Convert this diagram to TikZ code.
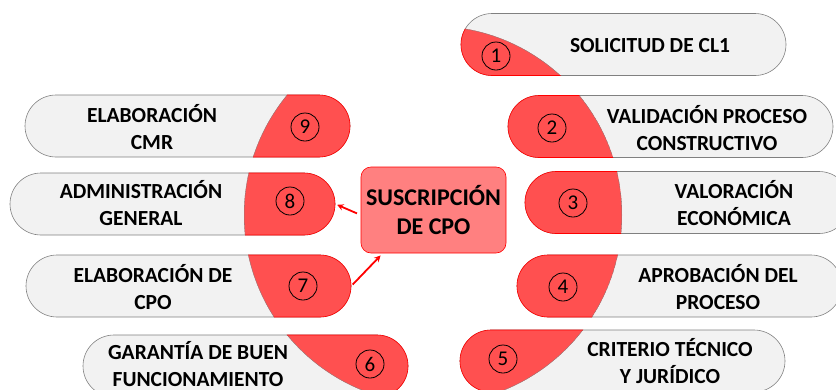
\documentclass[tikz,border=0pt]{standalone}
\usepackage{fontspec}
\setmainfont{Carlito}
\definecolor{cpored}{RGB}{255,80,80}
\definecolor{cpolight}{RGB}{255,128,128}
\definecolor{cpogray}{RGB}{242,242,242}
\definecolor{cpoline}{RGB}{128,128,128}
\usetikzlibrary{shapes.misc}

\begin{document}
\begin{tikzpicture}[x=1pt,y=-1pt]

%
% Styles
%
\tikzstyle{pill}     = [rounded rectangle,minimum height=62pt,inner sep=0pt,draw=cpoline,fill=cpogray,semithick]
\tikzstyle{redpill}  = [rounded rectangle,minimum height=62pt,inner sep=0pt,draw=red,fill=cpored,semithick,
                        path picture={\draw[cpoline] (o) circle (189pt);}]
\tikzstyle{pilltext} = [align=center,inner sep=0pt,font=\fontsize{21.5}{27}\selectfont\bfseries]
\tikzstyle{digit}    = [circle,draw,line width=0.8pt,minimum size=28pt,inner sep=0pt,
                        font=\fontsize{21}{21}\selectfont]
\tikzstyle{cpobox}   = [rectangle,rounded corners=10pt,draw=red,fill=cpolight,semithick,
                        minimum width=145pt,minimum height=86pt,align=center,
                        font=\fontsize{24}{29}\selectfont\bfseries]
\tikzstyle{cpoarrow} = [->,>=stealth,red,line width=1.8pt]

\useasboundingbox (0,0) rectangle (836,389);
\coordinate (o) at (433,215);

% pills, red part cut by the big circle
\foreach \n/\x/\y in {one/623.5/44.5, two/670.5/126.5, three/687.5/202.5,
                      four/679.5/286, five/622.5/361, nine/187.5/126,
                      eight/172.5/204, seven/188.5/286, six/245.5/366} {
  \node[pill,minimum width=325pt] (\n) at (\x,\y) {};
  \begin{scope}
    \clip (o) circle (189pt);
    \node[redpill,minimum width=325pt] (\n red) at (\x,\y) {};
  \end{scope}
}

\node[pilltext] (t1) at (650,46)  {SOLICITUD DE CL1};
\node[pilltext] (t2) at (707,128) {VALIDACIÓN PROCESO\\CONSTRUCTIVO};
\node[pilltext] (t3) at (734,203) {VALORACIÓN\\ECONÓMICA};
\node[pilltext] (t4) at (718,287) {APROBACIÓN DEL\\PROCESO};
\node[pilltext] (t5) at (670,361) {CRITERIO TÉCNICO\\Y JURÍDICO};
\node[pilltext] (t6) at (198,364) {GARANTÍA DE BUEN\\FUNCIONAMIENTO};
\node[pilltext] (t7) at (153,287) {ELABORACIÓN DE\\CPO};
\node[pilltext] (t8) at (141,203) {ADMINISTRACIÓN\\GENERAL};
\node[pilltext] (t9) at (152,127) {ELABORACIÓN\\CMR};

\node[digit] (d1) at (496,56)  {1};
\node[digit] (d2) at (552,128) {2};
\node[digit] (d3) at (573,203) {3};
\node[digit] (d4) at (563,287) {4};
\node[digit] (d5) at (503,359) {5};
\node[digit] (d6) at (370,364) {6};
\node[digit] (d7) at (303,286) {7};
\node[digit] (d8) at (290,201) {8};
\node[digit] (d9) at (305,127) {9};

\node[cpobox] (cpo) at (433.5,210) {SUSCRIPCIÓN\\DE CPO};

\draw[cpoarrow,shorten <=4pt,shorten >=2pt] ([yshift=-5pt]cpo.west) -- (eight.east);
\draw[cpoarrow,shorten <=2pt,shorten >=3pt] (seven.east) -- ([xshift=22pt]cpo.south west);

\end{tikzpicture}
\end{document}
